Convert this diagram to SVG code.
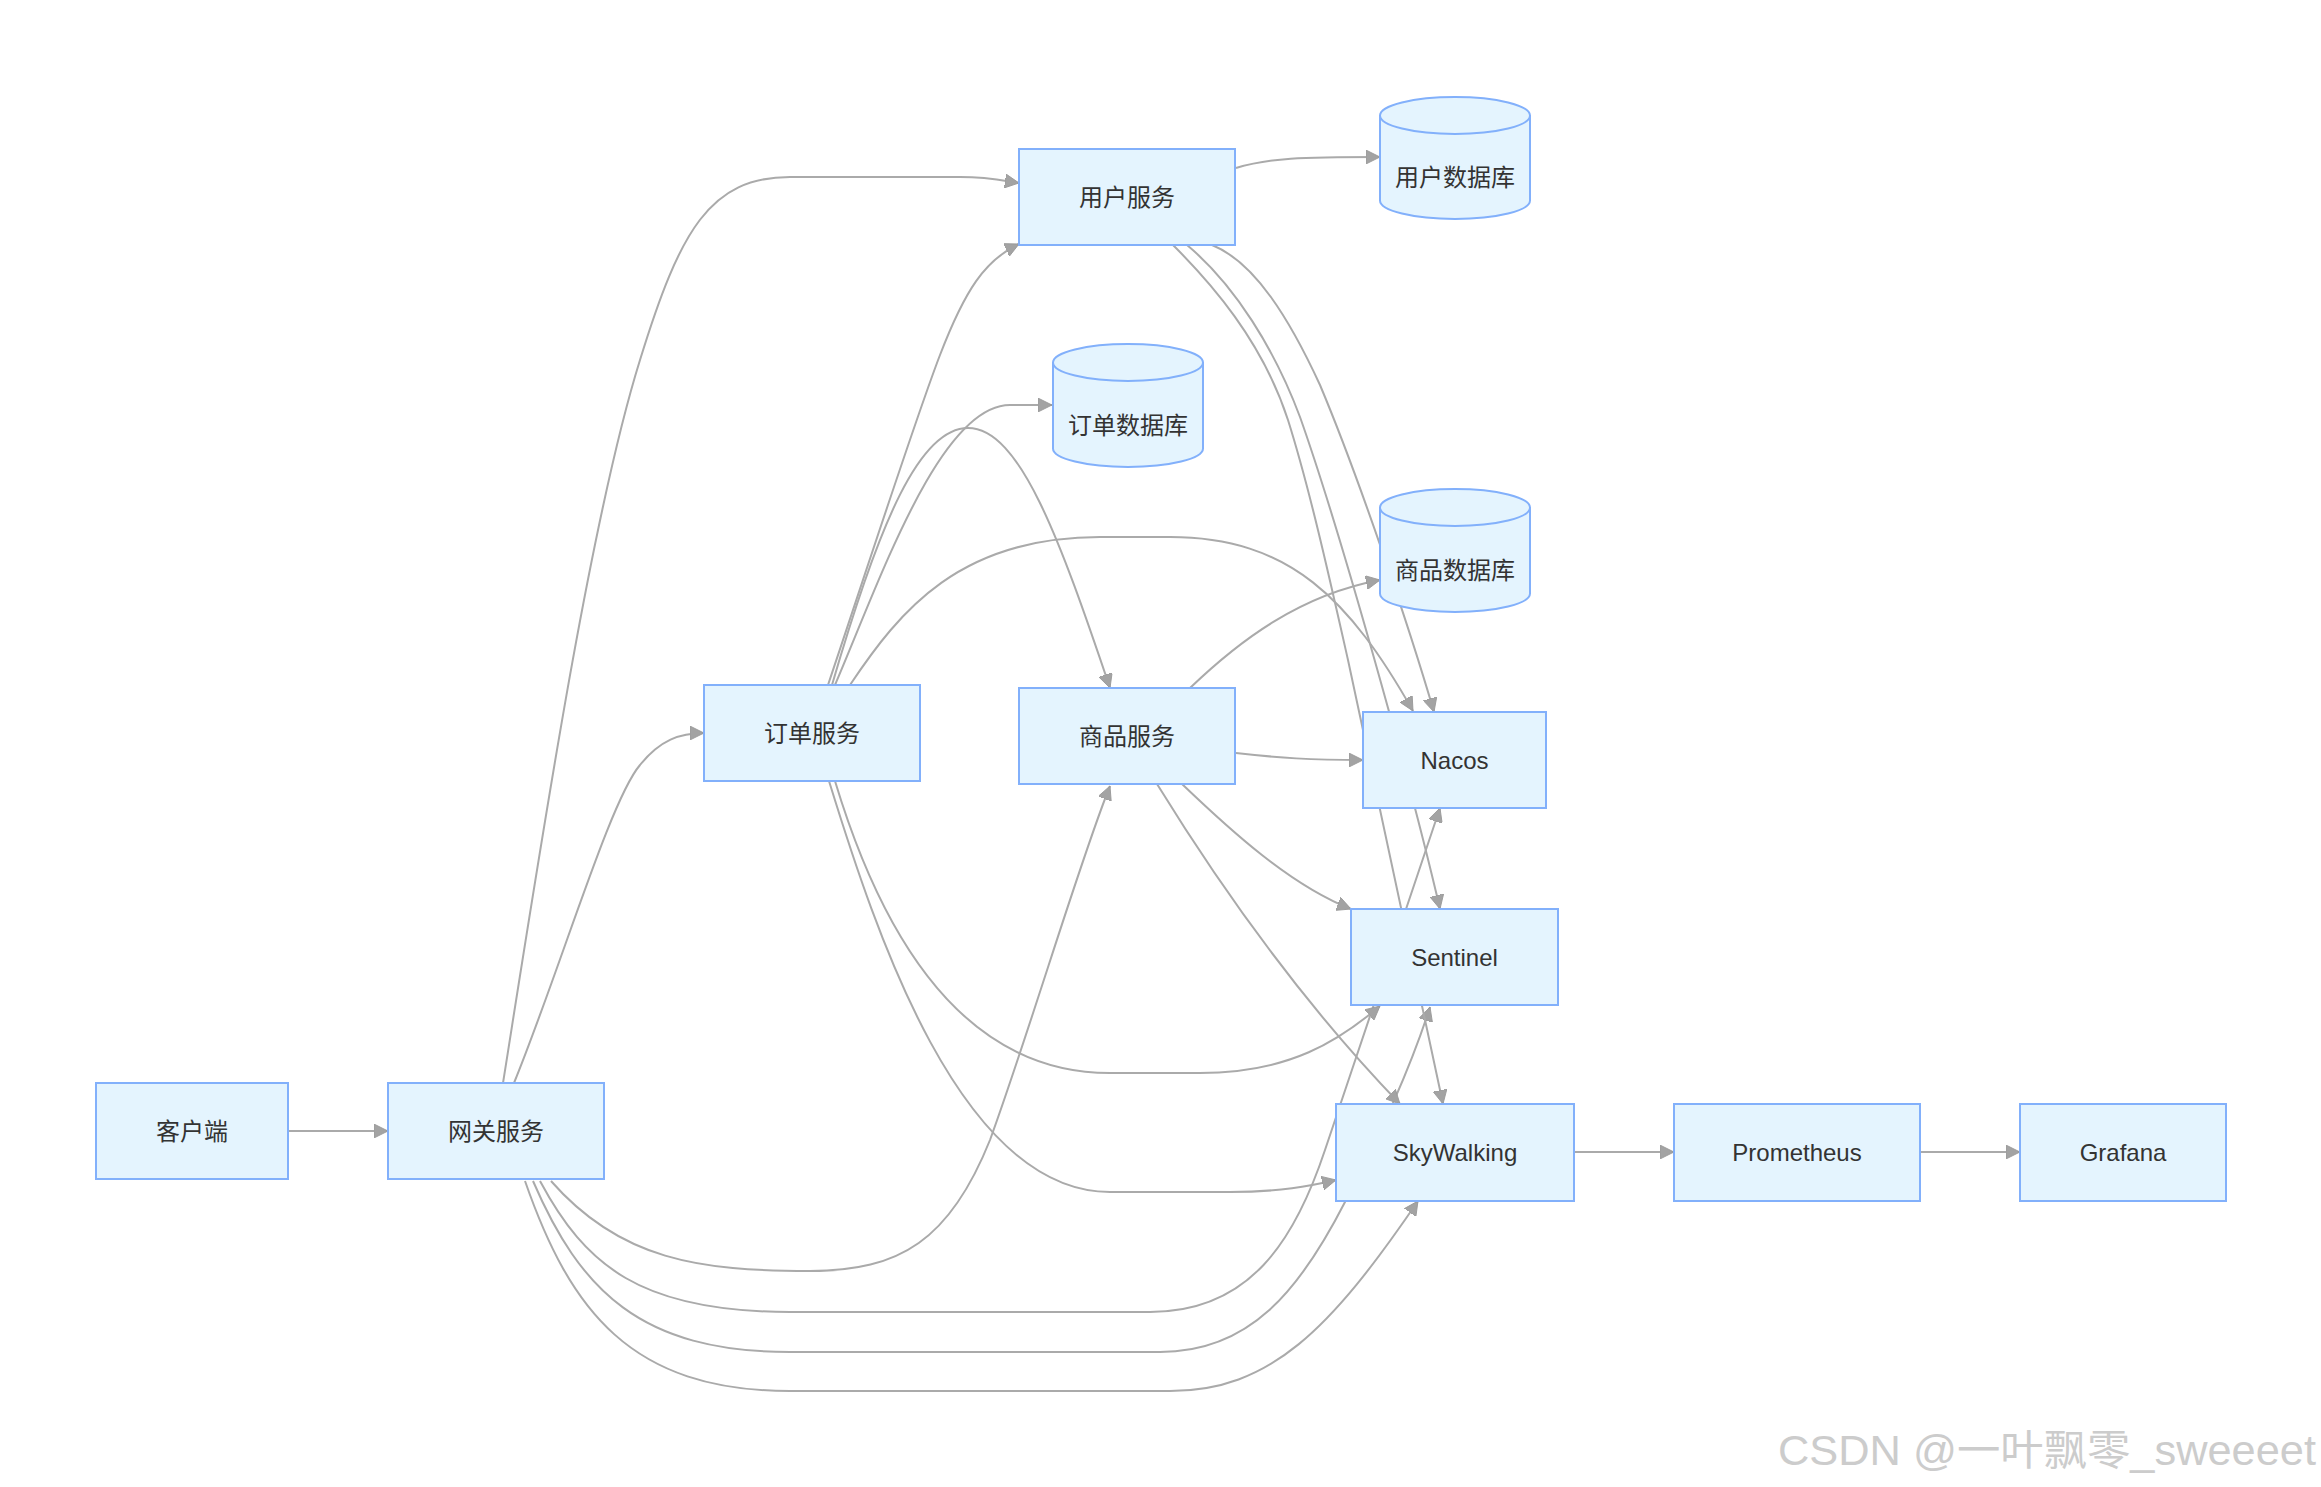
<svg xmlns="http://www.w3.org/2000/svg" width="2321" height="1487" viewBox="0 0 2321 1487">
<defs>
<style>
.edge{fill:none;stroke:#aaaaaa;stroke-width:2}
.box{fill:#e4f4fe;stroke:#82b0fb;stroke-width:2}
.lbl{font-family:"Liberation Sans","Noto Sans CJK SC",sans-serif;font-size:24px;fill:#333333;text-anchor:middle;dominant-baseline:central}
.wm{font-family:"Liberation Sans","Noto Sans CJK SC",sans-serif;font-size:42px;fill:#cccccc}
</style>
<marker id="arr" viewBox="0 0 10 10" refX="10" refY="5" markerUnits="userSpaceOnUse" markerWidth="14" markerHeight="14" orient="auto">
<path d="M0,0 L10,5 L0,10 z" fill="#a3a3a3" stroke="#999999" stroke-width="0.6"/>
</marker>
</defs>
<rect width="2321" height="1487" fill="#ffffff"/>
<g id="connectors">
<path class="edge" marker-end="url(#arr)" d="M288,1131 L388,1131"/>
<path class="edge" marker-end="url(#arr)" d="M503,1083 C540,850 590,520 640,360 C680,230 710,177 790,177 L960,177 C990,177 1005,181 1019,183"/>
<path class="edge" marker-end="url(#arr)" d="M514,1083 C560,970 610,800 640,765 C660,740 680,733 704,733"/>
<path class="edge" marker-end="url(#arr)" d="M551,1181 C620,1260 700,1271 810,1271 C900,1271 950,1240 990,1140 C1030,1030 1080,860 1110,786"/>
<path class="edge" marker-end="url(#arr)" d="M540,1181 C585,1265 640,1312 790,1312 L1150,1312 C1250,1312 1295,1240 1325,1150 L1440,808"/>
<path class="edge" marker-end="url(#arr)" d="M533,1181 C580,1290 640,1352 790,1352 L1160,1352 C1250,1352 1300,1290 1345,1202 C1380,1135 1410,1070 1430,1007"/>
<path class="edge" marker-end="url(#arr)" d="M525,1181 C570,1310 630,1391 790,1391 L1170,1391 C1270,1391 1330,1330 1418,1201"/>
<path class="edge" marker-end="url(#arr)" d="M828,685 C870,560 915,420 940,355 C965,290 985,260 1019,244"/>
<path class="edge" marker-end="url(#arr)" d="M835,685 C880,580 940,405 1010,405 L1052,405"/>
<path class="edge" marker-end="url(#arr)" d="M832,685 C880,520 920,428 968,428 C1020,428 1060,540 1110,688"/>
<path class="edge" marker-end="url(#arr)" d="M850,685 C900,610 960,537 1100,537 L1170,537 C1290,537 1350,600 1413,711"/>
<path class="edge" marker-end="url(#arr)" d="M835,781 C880,930 960,1073 1110,1073 L1200,1073 C1290,1073 1340,1040 1380,1006"/>
<path class="edge" marker-end="url(#arr)" d="M829,781 C875,930 960,1192 1110,1192 L1230,1192 C1280,1192 1310,1186 1336,1180"/>
<path class="edge" marker-end="url(#arr)" d="M1190,688 C1240,640 1300,595 1380,580"/>
<path class="edge" marker-end="url(#arr)" d="M1236,753 C1280,758 1310,760 1363,760"/>
<path class="edge" marker-end="url(#arr)" d="M1182,784 C1230,830 1290,885 1351,909"/>
<path class="edge" marker-end="url(#arr)" d="M1157,784 C1210,870 1290,990 1400,1104"/>
<path class="edge" marker-end="url(#arr)" d="M1236,168 C1270,158 1300,157 1380,157"/>
<path class="edge" marker-end="url(#arr)" d="M1212,245 C1255,262 1290,320 1320,385 C1360,480 1410,630 1434,712"/>
<path class="edge" marker-end="url(#arr)" d="M1187,245 C1235,285 1275,350 1300,417 C1340,530 1410,780 1440,909"/>
<path class="edge" marker-end="url(#arr)" d="M1173,245 C1210,282 1262,340 1288,420 C1310,490 1330,580 1348,660 L1443,1104"/>
<path class="edge" marker-end="url(#arr)" d="M1574,1152 L1674,1152"/>
<path class="edge" marker-end="url(#arr)" d="M1920,1152 L2020,1152"/>
</g>
<g id="client"><rect class="box" x="96" y="1083" width="192" height="96"/><text class="lbl" x="192" y="1131">客户端</text></g>
<g id="gateway"><rect class="box" x="388" y="1083" width="216" height="96"/><text class="lbl" x="496" y="1131">网关服务</text></g>
<g id="order"><rect class="box" x="704" y="685" width="216" height="96"/><text class="lbl" x="812" y="733">订单服务</text></g>
<g id="user"><rect class="box" x="1019" y="149" width="216" height="96"/><text class="lbl" x="1127" y="197">用户服务</text></g>
<g id="product"><rect class="box" x="1019" y="688" width="216" height="96"/><text class="lbl" x="1127" y="736">商品服务</text></g>
<g id="userdb"><path class="box" d="M1380,115.5 a75,18.5 0 0,0 150,0 a75,18.5 0 0,0 -150,0 l0,85 a75,18.5 0 0,0 150,0 l0,-85"/><text class="lbl" x="1455" y="177">用户数据库</text></g>
<g id="orderdb"><path class="box" d="M1053,362.5 a75,18.5 0 0,0 150,0 a75,18.5 0 0,0 -150,0 l0,86 a75,18.5 0 0,0 150,0 l0,-86"/><text class="lbl" x="1128" y="425">订单数据库</text></g>
<g id="productdb"><path class="box" d="M1380,507.5 a75,18.5 0 0,0 150,0 a75,18.5 0 0,0 -150,0 l0,86 a75,18.5 0 0,0 150,0 l0,-86"/><text class="lbl" x="1455" y="570">商品数据库</text></g>
<g id="nacos"><rect class="box" x="1363" y="712" width="183" height="96"/><text class="lbl" x="1454.5" y="760">Nacos</text></g>
<g id="sentinel"><rect class="box" x="1351" y="909" width="207" height="96"/><text class="lbl" x="1454.5" y="957">Sentinel</text></g>
<g id="skywalking"><rect class="box" x="1336" y="1104" width="238" height="97"/><text class="lbl" x="1455" y="1152">SkyWalking</text></g>
<g id="prometheus"><rect class="box" x="1674" y="1104" width="246" height="97"/><text class="lbl" x="1797" y="1152">Prometheus</text></g>
<g id="grafana"><rect class="box" x="2020" y="1104" width="206" height="97"/><text class="lbl" x="2123" y="1152">Grafana</text></g>
<text class="wm" x="1778" y="1465" textLength="538" lengthAdjust="spacingAndGlyphs">CSDN @一叶飘零_sweeeet</text>
</svg>
